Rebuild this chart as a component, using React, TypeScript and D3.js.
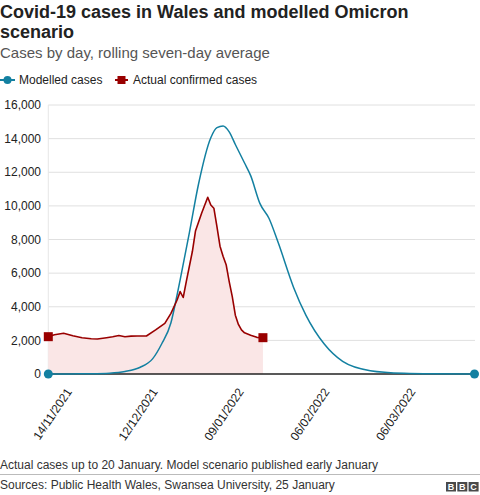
import React from "react";
import * as d3 from "d3";

const modelDates = [
  "2021-11-11","2021-11-18","2021-11-25","2021-12-01","2021-12-06","2021-12-11",
  "2021-12-15","2021-12-18","2021-12-21","2021-12-23","2021-12-24","2021-12-27",
  "2021-12-30","2022-01-03","2022-01-05","2022-01-07","2022-01-09","2022-01-11",
  "2022-01-14","2022-01-16","2022-01-19","2022-01-22","2022-01-25","2022-01-30",
  "2022-02-03","2022-02-09","2022-02-15","2022-02-24","2022-03-07","2022-03-16",
  "2022-03-30",
];
const modelValues = [
  0, 5, 15, 50, 150, 400,
  900, 1800, 3050, 4700, 5600, 8400,
  11300, 14050, 14650, 14750, 14400, 13650,
  12550, 11800, 10150, 9250, 7800, 5150,
  3500, 1780, 750, 200, 40, 10,
  0,
];

const actualDates = [
  "2021-11-11","2021-11-13","2021-11-16","2021-11-19","2021-11-22","2021-11-25",
  "2021-11-27","2021-11-30","2021-12-02","2021-12-04","2021-12-06","2021-12-08",
  "2021-12-10","2021-12-13","2021-12-16","2021-12-19","2021-12-21","2021-12-23",
  "2021-12-24","2021-12-25","2021-12-26","2021-12-28","2021-12-29","2021-12-31",
  "2022-01-02","2022-01-03","2022-01-04","2022-01-05","2022-01-06","2022-01-07",
  "2022-01-08","2022-01-09","2022-01-10","2022-01-11","2022-01-12","2022-01-13",
  "2022-01-14","2022-01-16","2022-01-18","2022-01-20",
];
const actualValues = [
  2220, 2330, 2420, 2280, 2160, 2100,
  2080, 2160, 2220, 2290, 2220, 2250,
  2260, 2260, 2620, 3010, 3610, 4400,
  4900, 4550, 5500, 7300, 8500, 9560,
  10510, 10050, 9860, 8760, 7600, 7000,
  6500, 5500, 4600, 3500, 2950, 2620,
  2450, 2310, 2180, 2160,
];

const yTicks = [0, 2000, 4000, 6000, 8000, 10000, 12000, 14000, 16000];
const xTickDates = ["2021-11-14", "2021-12-12", "2022-01-09", "2022-02-06", "2022-03-06"];
const xTickLabels = ["14/11/2021", "12/12/2021", "09/01/2022", "06/02/2022", "06/03/2022"];

const BLUE = "#1380a1";
const RED = "#990000";
const FONT = "'Liberation Sans', Arial, Helvetica, sans-serif";

const parse = d3.utcParse("%Y-%m-%d");

export default function App() {
  const left = 48.3, right = 474.5, top = 105, bottom = 374;
  const x = d3.scaleUtc()
    .domain([parse("2021-11-11")!, parse("2022-03-30")!])
    .range([left, right]);
  const y = d3.scaleLinear().domain([0, 16000]).range([bottom, top]);

  const model = modelDates.map((d, i) => ({ d: parse(d)!, v: modelValues[i] }));
  const actual = actualDates.map((d, i) => ({ d: parse(d)!, v: actualValues[i] }));

  const modelLine = d3.line<{ d: Date; v: number }>()
    .x(p => x(p.d)).y(p => y(p.v)).curve(d3.curveMonotoneX)(model) || "";
  const actualLine = d3.line<{ d: Date; v: number }>()
    .x(p => x(p.d)).y(p => y(p.v))(actual) || "";
  const actualArea = d3.area<{ d: Date; v: number }>()
    .x(p => x(p.d)).y0(y(0)).y1(p => y(p.v))(actual) || "";

  const fmt = d3.format(",");
  const mFirst = model[0], mLast = model[model.length - 1];
  const aFirst = actual[0], aLast = actual[actual.length - 1];

  return (
    <svg width={480} height={495} style={{ position: "absolute", left: 0, top: 0 }}
      fontFamily={FONT}>
      <rect x={0} y={0} width={480} height={495} fill="#fff" />
      <text x={0} y={17.5} fontSize={18} fontWeight="bold" fill="#222">
        Covid-19 cases in Wales and modelled Omicron
      </text>
      <text x={0} y={38} fontSize={18} fontWeight="bold" fill="#222">scenario</text>
      <text x={0} y={57.5} fontSize={15} fill="#555">Cases by day, rolling seven-day average</text>

      {/* legend */}
      <line x1={0} x2={15} y1={80} y2={80} stroke={BLUE} strokeWidth={2} />
      <circle cx={7.5} cy={80} r={4} fill={BLUE} />
      <text x={19} y={84.2} fontSize={12} fill="#222">Modelled cases</text>
      <line x1={115} x2={128} y1={80} y2={80} stroke={RED} strokeWidth={2} />
      <rect x={117.5} y={76} width={8} height={8} fill={RED} />
      <text x={133} y={84.2} fontSize={12} fill="#222">Actual confirmed cases</text>

      {/* grid */}
      {yTicks.map(t => (
        <g key={t}>
          {t > 0 && <line x1={left} x2={right + 0.5} y1={y(t)} y2={y(t)} stroke="#e0e0e0" strokeWidth={1} />}
          <text x={41} y={y(t)} dy="0.35em" textAnchor="end" fontSize={12} fill="#222">{fmt(t)}</text>
        </g>
      ))}
      <line x1={left} x2={left} y1={top} y2={bottom} stroke="#e6e6e6" strokeWidth={1} />

      {/* series */}
      <path d={actualArea} fill="#fae6e6" />
      <line x1={left} x2={right} y1={y(0)} y2={y(0)} stroke="#222" strokeWidth={1.6} />
      <path d={modelLine} fill="none" stroke={BLUE} strokeWidth={1.5} />
      <path d={actualLine} fill="none" stroke={RED} strokeWidth={1.6} strokeLinejoin="round" />
      <circle cx={x(mFirst.d)} cy={y(mFirst.v)} r={4.5} fill={BLUE} />
      <circle cx={x(mLast.d)} cy={y(mLast.v)} r={4.5} fill={BLUE} />
      <rect x={x(aFirst.d) - 4.5} y={y(aFirst.v) - 4.5} width={9} height={9} fill={RED} />
      <rect x={x(aLast.d) - 4.5} y={y(aLast.v) - 4.5} width={9} height={9} fill={RED} />

      {/* x labels */}
      {xTickDates.map((d, i) => {
        const tx = x(parse(d)!);
        return (
          <text key={d} transform={`translate(${tx + 8},${387}) rotate(-56)`}
            textAnchor="end" dy="0.7em" fontSize={12} fill="#222">{xTickLabels[i]}</text>
        );
      })}

      {/* footer */}
      <text x={0} y={469} fontSize={12} fill="#333">
        Actual cases up to 20 January. Model scenario published early January
      </text>
      <line x1={0} x2={480} y1={474.5} y2={474.5} stroke="#bbb" strokeWidth={1} />
      <text x={0} y={488.5} fontSize={12} fill="#333">
        Sources: Public Health Wales, Swansea University, 25 January
      </text>
      {["B", "B", "C"].map((c, i) => (
        <g key={i}>
          <rect x={446 + i * 11.3} y={482} width={10} height={9.5} fill="#4a4a4a" />
          <text x={446 + i * 11.3 + 5} y={490.2} textAnchor="middle" fontSize={9}
            fontWeight="bold" fill="#fff">{c}</text>
        </g>
      ))}
    </svg>
  );
}
